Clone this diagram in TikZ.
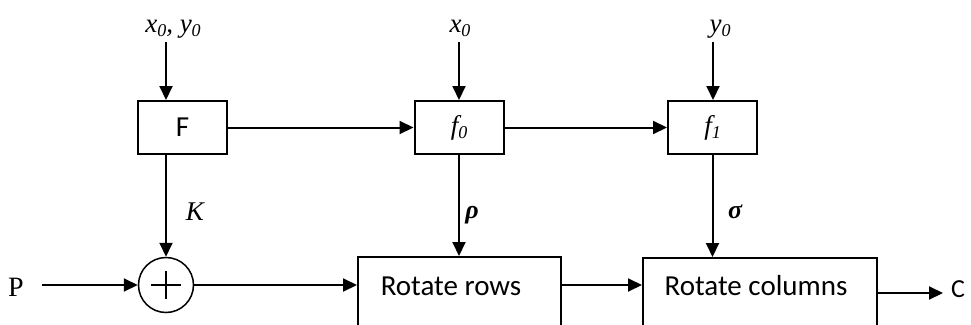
\documentclass[tikz,border=0pt]{standalone}
\usepackage{fontspec}
\setmainfont{Liberation Serif}
\newfontfamily\calib{Carlito}
\usetikzlibrary{arrows.meta}
% small lowered index digit, as in x_0
\newcommand\lowsub[1]{\raisebox{-0.35ex}{\fontsize{18}{18}\selectfont\itshape #1}}
\begin{document}
\begin{tikzpicture}[x=1pt,y=-1pt,
  arr/.style={-{Triangle[length=14pt,width=13pt]}, line width=2pt},
  blk/.style={draw, line width=2pt, minimum width=89pt, minimum height=53pt, inner sep=0pt},
  big/.style={draw, line width=2pt, inner sep=0pt},
  lbl/.style={font=\fontsize{27}{30}\selectfont\itshape, inner sep=0pt},
  glbl/.style={font=\fontsize{26}{30}\selectfont\bfseries\itshape, inner sep=0pt},
  sans/.style={font=\calib\fontsize{29}{34}\selectfont, inner sep=0pt},
]
\clip (0,0) rectangle (971,324);

% key schedule boxes
\node[blk, font=\calib\fontsize{29}{34}\selectfont] (F) at (182.5,127.5) {F};
\node[blk, font=\fontsize{27}{30}\selectfont\itshape] (f0) at (459,127.5) {f\lowsub{0}};
\node[blk, font=\fontsize{27}{30}\selectfont\itshape] (f1) at (712.5,127.5) {f\lowsub{1}};

% inputs on top
\node[lbl, anchor=base] (xy) at (173,32) {x\lowsub{0}, y\lowsub{0}};
\node[lbl, anchor=base] (x0) at (460,32) {x\lowsub{0}};
\node[lbl, anchor=base] (y0) at (720,32) {y\lowsub{0}};
\coordinate (xyin) at (166,42);
\coordinate (x0in) at (459,42);
\coordinate (y0in) at (713,42);

% XOR and the two rotation stages
\node[circle, draw, line width=1.5pt, minimum size=55pt, inner sep=0pt] (plus) at (166,285) {};
\draw[line width=1.5pt] ([xshift=-15pt]plus.center) -- ([xshift=15pt]plus.center);
\draw[line width=1.5pt] ([yshift=-14pt]plus.center) -- ([yshift=14pt]plus.center);

\node[big, minimum width=203pt, minimum height=100pt] (rows) at (459.5,307) {};
\node[big, minimum width=234pt, minimum height=100pt] (cols) at (760,308) {};
\node[sans, anchor=base] (rowst) at (451,295) {Rotate rows};
\node[sans, anchor=base] (colst) at (756,295) {Rotate columns};

% plaintext in, ciphertext out
\node[font=\fontsize{28}{30}\selectfont, anchor=base, inner sep=0pt] (P) at (16,296) {P};
\coordinate (pin) at (42,285);
\coordinate (cout) at (943,293);
\node[font=\calib\fontsize{26}{30}\selectfont, anchor=base west, inner sep=0pt] (C) at (951,297) {C};

% edge labels
\node[lbl] (K) at (195,212) {K};
\node[glbl] (rho) at (472,215) {ρ};
\node[glbl] (sig) at (735,212) {σ};

% connectors
\draw[arr] (xyin) -- (xyin |- F.north);
\draw[arr] (x0in) -- (x0in |- f0.north);
\draw[arr] (y0in) -- (y0in |- f1.north);
\draw[arr] (F.east) -- (f0.west);
\draw[arr] (f0.east) -- (f1.west);
\draw[arr] (F.south -| xyin) -- (plus.north);
\draw[arr] (f0.south) -- (f0.south |- rows.north);
\draw[arr] (f1.south) -- (f1.south |- cols.north);
\draw[arr] (pin) -- (plus.west);
\draw[arr] (plus.east) -- (plus.east -| rows.west);
\draw[arr] (rows.east |- plus) -- (cols.west |- plus);
\draw[arr] (cols.east |- cout) -- (cout);
\end{tikzpicture}
\end{document}
